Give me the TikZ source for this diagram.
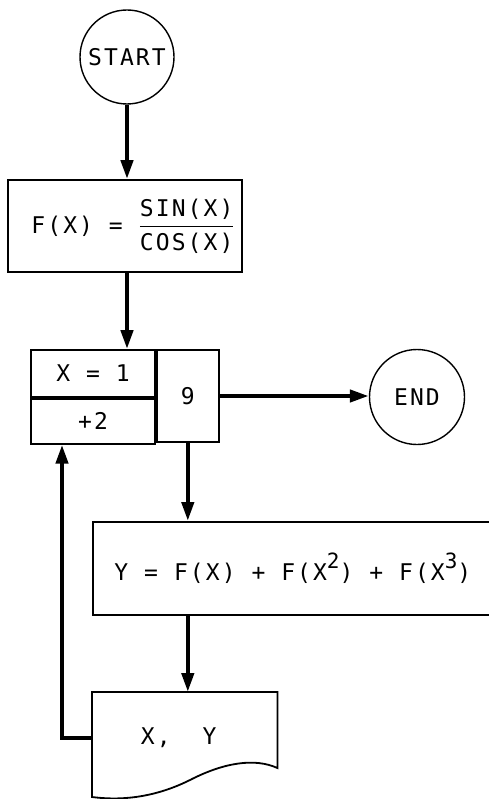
\documentclass[tikz,border=0pt]{standalone}
\usepackage{amsmath}
\usepackage{fontspec}
\setmainfont{DejaVu Sans Mono}[LetterSpace=9]
\usepackage{tikz}
\usetikzlibrary{arrows.meta,calc}
\newcommand{\upnum}[1]{\raisebox{0.5em}{\fontsize{21}{21}\selectfont #1}}

\begin{document}
\begin{tikzpicture}[>={Triangle[length=19pt,width=12pt]}, x=1pt, y=1pt,
    every node/.style={font=\fontsize{23}{27}\selectfont},
    term/.style={draw, circle, line width=1.4pt, inner sep=0pt},
    box/.style={draw, rectangle, line width=1.8pt, inner sep=0pt},
    flow/.style={->, line width=4.2pt}]
    \useasboundingbox (0,0) rectangle (488,-799);

    % 开始
    \node[term, minimum size=94pt] (start) at (127,-57) {START};

    % 函数定义
    \node[box, minimum width=234pt, minimum height=92pt] (fbox) at (125,-226)
        {\hspace*{16pt}F(X) = $\dfrac{\text{SIN(X)}}{\text{COS(X)}}$};

    % 循环框: 初值, 步长, 终值
    \node[box, minimum width=124pt, minimum height=47pt] (init) at (93,-373.5) {X = 1};
    \node[box, minimum width=124pt, minimum height=45pt, anchor=north] (incr) at (init.south) {+2};
    \node[box, minimum width=62pt, minimum height=92pt, anchor=north west] (limit) at (init.north east) {9};

    % 结束
    \node[term, minimum size=95pt] (end) at (417,-397) {END};

    % 求和
    \node[box, minimum width=400pt, minimum height=93pt, anchor=north west] (sumbox) at (92,-521)
        {Y = F(X) + F(X\upnum{2}) + F(X\upnum{3})};

    % 输出 (文件形状)
    \node[minimum width=185pt, minimum height=92pt, anchor=north west] (out) at (92,-692) {X,\ \ Y\hspace*{12pt}};
    \draw[line width=1.8pt] (out.north west) -- (out.north east) -- ($(out.north east)+(0,-76)$)
        .. controls +(-22,10) and +(35,18) .. (190,-780)
        .. controls +(-40,-20) and +(23,-3) .. ($(out.north west)+(0,-105)$) -- cycle;

    % 流程线
    \draw[flow] (start) -- (start |- fbox.north);
    \draw[flow] (start |- fbox.south) -- (start |- init.north);
    \draw[flow] (limit.east) -- (limit.east -| end.west);
    \draw[flow] (limit.south) -- (limit.south |- sumbox.north);
    \draw[flow] (limit.south |- sumbox.south) -- (limit.south |- out.north);
    \coordinate (back) at (62,-600);
    \draw[flow] (out.west) -| (back |- incr.south);
\end{tikzpicture}
\end{document}
